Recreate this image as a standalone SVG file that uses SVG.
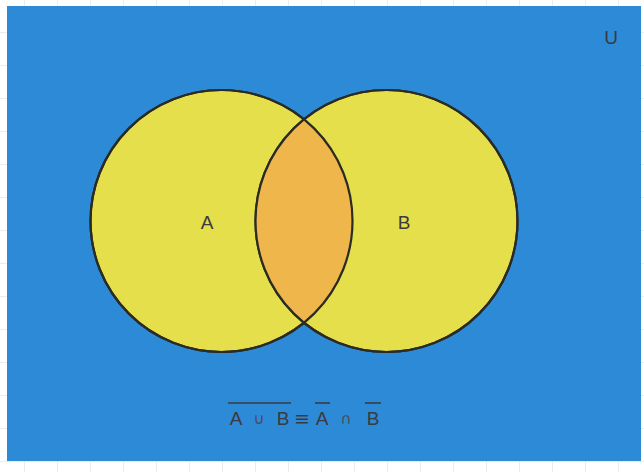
<svg xmlns="http://www.w3.org/2000/svg" width="644" height="472" viewBox="0 0 644 472">
  <defs>
    <pattern id="grid" x="-8" y="0" width="33" height="33" patternUnits="userSpaceOnUse">
      <path d="M33 0 V33 M0 33 H33" fill="none" stroke="#d9d9d9" stroke-width="1"/>
    </pattern>
    <clipPath id="clipA">
      <circle cx="221.5" cy="221" r="131"/>
    </clipPath>
  </defs>
  <style>
    .set { fill: #e4df4a; stroke: #2b2b26; stroke-width: 2.2; }
    .lbl { font-family: "Liberation Sans", Arial, sans-serif; font-size: 19px; fill: #3a3a40; }
    .op { font-family: "DejaVu Sans", "Liberation Sans", sans-serif; font-size: 15px; fill: #4a4a58; }
    .eq { font-family: "DejaVu Sans", "Liberation Sans", sans-serif; font-size: 19px; fill: #3a3a40; }
    .bar { stroke: #3a3a40; stroke-width: 1.6; }
  </style>
  <rect width="644" height="472" fill="#ffffff"/>
  <rect width="644" height="472" fill="url(#grid)"/>
  <g id="universe">
    <rect x="7" y="6" width="634" height="455" fill="#2d8ad7"/>
    <text class="lbl" x="611" y="44" text-anchor="middle">U</text>
  </g>
  <g id="setA">
    <circle class="set" cx="221.5" cy="221" r="131"/>
  </g>
  <g id="setB">
    <circle class="set" cx="386.5" cy="221" r="131"/>
  </g>
  <g id="intersection">
    <circle cx="386.5" cy="221" r="131" fill="#efb64c" clip-path="url(#clipA)"/>
    <circle cx="221.5" cy="221" r="131" fill="none" stroke="#2b2b26" stroke-width="2.2"/>
    <circle cx="386.5" cy="221" r="131" fill="none" stroke="#2b2b26" stroke-width="2.2"/>
  </g>
  <g id="labels">
    <text class="lbl" x="207" y="229" text-anchor="middle">A</text>
    <text class="lbl" x="404" y="229" text-anchor="middle">B</text>
  </g>
  <g id="formula">
    <text class="lbl" x="236" y="425" text-anchor="middle">A</text>
    <text class="op" x="259" y="424" text-anchor="middle">∪</text>
    <text class="lbl" x="283" y="425" text-anchor="middle">B</text>
    <text class="eq" x="302" y="425" text-anchor="middle">≡</text>
    <text class="lbl" x="322" y="425" text-anchor="middle">A</text>
    <text class="op" x="346" y="424" text-anchor="middle">∩</text>
    <text class="lbl" x="373" y="425" text-anchor="middle">B</text>
    <line class="bar" x1="228" y1="403" x2="291" y2="403"/>
    <line class="bar" x1="315" y1="403" x2="330" y2="403"/>
    <line class="bar" x1="365" y1="403" x2="381" y2="403"/>
  </g>
</svg>
